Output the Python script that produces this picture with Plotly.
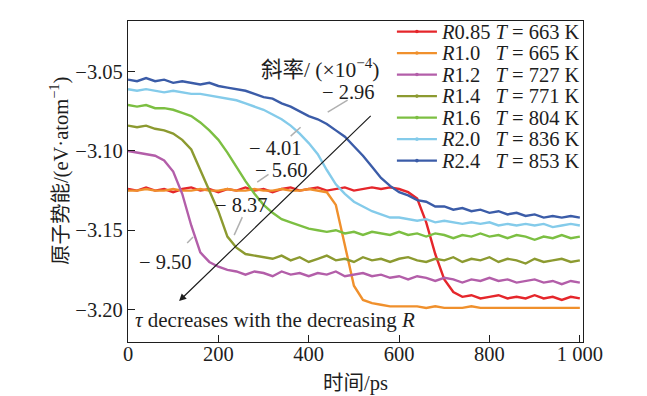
import plotly.graph_objects as go

time_ps = list(range(0, 1001, 20))

r085 = [-3.124, -3.125, -3.123, -3.125, -3.124, -3.126, -3.124, -3.123, -3.125, -3.124,
        -3.126, -3.124, -3.125, -3.123, -3.125, -3.124, -3.126, -3.124, -3.123, -3.125,
        -3.124, -3.123, -3.125, -3.124, -3.123, -3.125, -3.124, -3.123, -3.124, -3.123,
        -3.124, -3.126, -3.130, -3.145, -3.165, -3.181, -3.189, -3.192, -3.191, -3.193,
        -3.192, -3.191, -3.193, -3.192, -3.193, -3.191, -3.193, -3.192, -3.194, -3.192, -3.193]
r10 = [-3.125, -3.125, -3.124, -3.125, -3.125, -3.124, -3.125, -3.125, -3.124, -3.125,
       -3.125, -3.124, -3.125, -3.125, -3.124, -3.125, -3.125, -3.124, -3.125, -3.125,
       -3.124, -3.125, -3.126, -3.134, -3.160, -3.185, -3.194, -3.196, -3.197, -3.198,
       -3.198, -3.198, -3.198, -3.199, -3.198, -3.199, -3.199, -3.199, -3.198, -3.199,
       -3.199, -3.199, -3.199, -3.199, -3.199, -3.199, -3.199, -3.199, -3.199, -3.199, -3.199]
r12 = [-3.100, -3.101, -3.102, -3.103, -3.106, -3.113, -3.127, -3.147, -3.164, -3.170,
       -3.173, -3.175, -3.176, -3.178, -3.176, -3.177, -3.179, -3.176, -3.178, -3.177,
       -3.179, -3.177, -3.178, -3.176, -3.179, -3.178, -3.177, -3.179, -3.178, -3.180,
       -3.179, -3.181, -3.179, -3.180, -3.182, -3.180, -3.181, -3.183, -3.181, -3.182,
       -3.180, -3.182, -3.181, -3.183, -3.182, -3.181, -3.183, -3.182, -3.184, -3.182, -3.183]
r14 = [-3.084, -3.085, -3.084, -3.086, -3.087, -3.089, -3.093, -3.099, -3.112, -3.125,
       -3.138, -3.154, -3.161, -3.165, -3.166, -3.167, -3.168, -3.166, -3.169, -3.167,
       -3.170, -3.168, -3.166, -3.169, -3.168, -3.170, -3.167, -3.169, -3.168, -3.170,
       -3.168, -3.167, -3.169, -3.170, -3.168, -3.169, -3.167, -3.170, -3.168, -3.169,
       -3.167, -3.170, -3.168, -3.169, -3.171, -3.168, -3.170, -3.169, -3.168, -3.170, -3.169]
r16 = [-3.071, -3.072, -3.071, -3.073, -3.073, -3.074, -3.076, -3.078, -3.082, -3.087,
       -3.093, -3.101, -3.110, -3.119, -3.127, -3.134, -3.139, -3.143, -3.145, -3.147,
       -3.149, -3.150, -3.151, -3.150, -3.152, -3.151, -3.153, -3.151, -3.152, -3.153,
       -3.151, -3.153, -3.152, -3.154, -3.152, -3.153, -3.155, -3.153, -3.154, -3.152,
       -3.154, -3.153, -3.155, -3.153, -3.154, -3.156, -3.154, -3.155, -3.153, -3.155, -3.154]
r20 = [-3.061, -3.062, -3.061, -3.062, -3.063, -3.062, -3.063, -3.064, -3.064, -3.065,
       -3.066, -3.067, -3.068, -3.070, -3.072, -3.074, -3.077, -3.080, -3.084, -3.089,
       -3.095, -3.102, -3.112, -3.121, -3.127, -3.132, -3.135, -3.138, -3.140, -3.142,
       -3.142, -3.143, -3.144, -3.143, -3.145, -3.144, -3.145, -3.146, -3.145, -3.146,
       -3.145, -3.147, -3.146, -3.147, -3.146, -3.147, -3.146, -3.148, -3.147, -3.146, -3.147]
r24 = [-3.055, -3.056, -3.054, -3.056, -3.055, -3.057, -3.056, -3.057, -3.058, -3.057,
       -3.059, -3.060, -3.061, -3.062, -3.064, -3.066, -3.067, -3.070, -3.072, -3.075,
       -3.078, -3.080, -3.083, -3.087, -3.091, -3.097, -3.103, -3.110, -3.117, -3.122,
       -3.126, -3.128, -3.131, -3.132, -3.135, -3.135, -3.137, -3.136, -3.138, -3.137,
       -3.139, -3.138, -3.140, -3.139, -3.141, -3.140, -3.142, -3.141, -3.142, -3.141, -3.142]

series_names = ["<i>R</i>0.85 <i>T</i> = 663 K", "<i>R</i>1.0\u2002 <i>T</i> = 665 K",
                "<i>R</i>1.2\u2002 <i>T</i> = 727 K", "<i>R</i>1.4\u2002 <i>T</i> = 771 K",
                "<i>R</i>1.6\u2002 <i>T</i> = 804 K", "<i>R</i>2.0\u2002 <i>T</i> = 836 K",
                "<i>R</i>2.4\u2002 <i>T</i> = 853 K"]
series_values = [r085, r10, r12, r14, r16, r20, r24]
series_colors = ["#e5262b", "#f0902c", "#b35ea9", "#8c9a30", "#7cbf42", "#84cbea", "#3b5ca8"]

x_ticks = [0, 200, 400, 600, 800, 1000]
x_tick_text = ["0", "200", "400", "600", "800", "1 000"]
y_ticks = [-3.20, -3.15, -3.10, -3.05]
y_tick_text = ["\u22123.20", "\u22123.15", "\u22123.10", "\u22123.05"]

slope_labels = ["\u2212 2.96", "\u2212 4.01", "\u2212 5.60", "\u2212 8.37", "\u2212 9.50"]
slope_pos = [(488, -3.0629), (326, -3.0981), (340, -3.1120), (251, -3.1342), (84, -3.1700)]
leaders = [((486, -3.0679), (442, -3.0755)),
           ((382, -3.0850), (360, -3.0906)),
           ((311, -3.1147), (286, -3.1197)),
           ((253, -3.1417), (235, -3.1531)),
           ((144, -3.1543), (131, -3.1581))]

serif = "'Liberation Serif', 'Times New Roman', 'Noto Sans CJK SC', serif"
FS = 20.5
ink = "#1e1e1e"

fig = go.Figure()
for name, vals, col in zip(series_names, series_values, series_colors):
    fig.add_trace(go.Scatter(x=time_ps, y=vals, mode="lines", name=name,
                             line=dict(color=col, width=2.4), showlegend=False))

# legend drawn as annotations (tight line spacing as in the reference)
LEG_X0, LEG_X1, LEG_TX = 0.591, 0.679, 0.683
LEG_Y0, LEG_DY = 0.967, 0.0670
for i, (name, col) in enumerate(zip(series_names, series_colors)):
    yy = LEG_Y0 - i * LEG_DY
    fig.add_shape(type="line", xref="paper", yref="paper", x0=LEG_X0, x1=LEG_X1,
                  y0=yy, y1=yy, line=dict(color=col, width=2.4))
    fig.add_shape(type="circle", xref="paper", yref="paper",
                  x0=(LEG_X0 + LEG_X1) / 2 - 0.004, x1=(LEG_X0 + LEG_X1) / 2 + 0.004,
                  y0=yy - 0.0055, y1=yy + 0.0055, fillcolor=col, line=dict(width=0))
    fig.add_annotation(xref="paper", yref="paper", x=LEG_TX, y=yy, xanchor="left",
                       yanchor="middle", text=name, showarrow=False, height=20,
                       font=dict(family=serif, size=FS, color=ink))

for text, (xx, yy) in zip(slope_labels, slope_pos):
    fig.add_annotation(x=xx, y=yy, text=text, showarrow=False,
                       font=dict(family=serif, size=FS, color=ink))

for (x0, y0), (x1, y1) in leaders:
    fig.add_shape(type="line", x0=x0, y0=y0, x1=x1, y1=y1, xref="x", yref="y",
                  line=dict(color="#b0b0b0", width=1.5))

fig.add_annotation(x=426, y=-3.0477, text="斜率/ (×10<sup>\u22124</sup>)", showarrow=False,
                   font=dict(family=serif, size=21.5, color=ink))

fig.add_annotation(x=113, y=-3.1947, ax=546, ay=-3.0754, xref="x", yref="y",
                   axref="x", ayref="y", showarrow=True, arrowhead=2, arrowsize=1.2,
                   arrowwidth=1.2, arrowcolor=ink, text=" ")

fig.add_annotation(x=12, y=-3.2067, xanchor="left", showarrow=False,
                   text="<i>τ</i> decreases with the decreasing <i>R</i>",
                   font=dict(family=serif, size=21, color=ink))

# y-axis title placed as a rotated annotation for exact positioning
fig.add_annotation(xref="paper", yref="paper", x=-0.149, y=0.533, textangle=-90,
                   xanchor="center", yanchor="middle",
                   text="原子势能/(eV·atom<sup>\u22121</sup>)", showarrow=False,
                   font=dict(family=serif, size=FS, color=ink))

fig.update_layout(
    width=647, height=396,
    margin=dict(l=128, r=64, t=21, b=54, autoexpand=False),
    paper_bgcolor="white", plot_bgcolor="white",
    font=dict(family=serif, size=FS, color=ink),
    showlegend=False,
)
fig.update_xaxes(range=[0, 1007], tickvals=x_ticks, ticktext=x_tick_text,
                 ticks="inside", ticklen=7, tickcolor=ink, showline=True, linecolor=ink,
                 linewidth=1.2, mirror=True, showgrid=False, zeroline=False, automargin=False,
                 ticklabelstandoff=-7,
                 tickfont=dict(family=serif, size=FS, color=ink),
                 title=dict(text="时间/ps", font=dict(family=serif, size=FS, color=ink),
                            standoff=11))
fig.update_yaxes(range=[-3.2205, -3.018], tickvals=y_ticks, ticktext=y_tick_text,
                 ticks="inside", ticklen=7, tickcolor=ink, showline=True, linecolor=ink,
                 linewidth=1.2, mirror=True, showgrid=False, zeroline=False, automargin=False,
                 tickfont=dict(family=serif, size=FS, color=ink))

fig.write_html("out.html", post_script="document.body.style.margin='0';",
               config={"displayModeBar": False})
